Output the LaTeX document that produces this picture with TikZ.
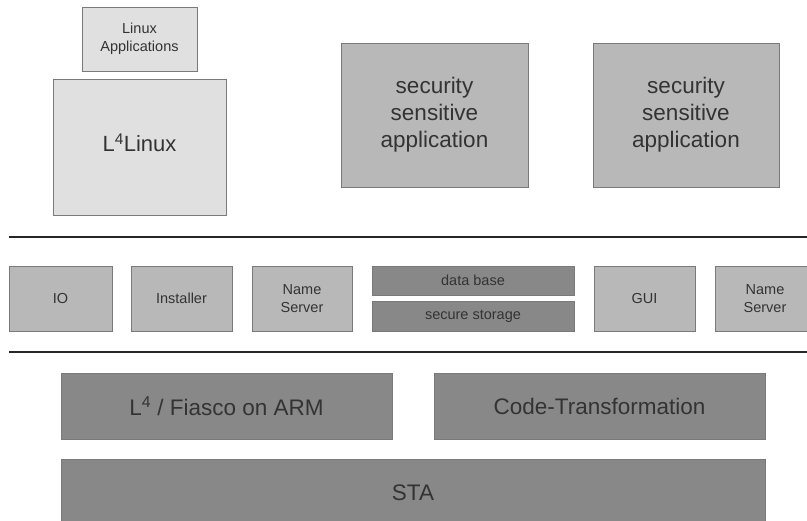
\documentclass[tikz,border=0pt]{standalone}
\usepackage{fontspec}
\setmainfont{Liberation Sans}
\definecolor{lightbox}{HTML}{E0E0E0}
\definecolor{midbox}{HTML}{B8B8B8}
\definecolor{darkbox}{HTML}{888888}
\definecolor{edge}{HTML}{7A7A7A}
\definecolor{txt}{HTML}{333333}
\begin{document}
\begin{tikzpicture}[x=1pt,y=-1pt,
  box/.style={draw=edge,line width=0.9pt,rectangle,inner sep=0pt,align=center,text=txt},
  bigtxt/.style={font=\fontsize{22.5}{27}\selectfont},
  smalltxt/.style={font=\fontsize{14.5}{17.5}\selectfont},
  layer/.style={line width=2.6pt,draw=black!85}]
\clip (0,0) rectangle (807,521);
\fill[white] (0,0) rectangle (807,521);
% top layer
\node[box,fill=lightbox,smalltxt,minimum width=115pt,minimum height=64pt] (linapp) at (139.5,39) {Linux\\Applications};
\node[box,fill=lightbox,minimum width=173pt,minimum height=136pt] (l4linux) at (139.5,147) {};
\node[text=txt,font=\fontsize{22}{26}\selectfont] (l4linuxlabel) at (139.5,143) {L\textsuperscript{4}Linux};
\node[box,fill=midbox,bigtxt,minimum width=187pt,minimum height=144pt] (sec1) at (434.5,115) {security\\sensitive\\application};
\node[box,fill=midbox,bigtxt,minimum width=186pt,minimum height=144pt] (sec2) at (686,115) {security\\sensitive\\application};
% separators
\coordinate (l1a) at (9,237);
\coordinate (l1b) at (807,237);
\coordinate (l2a) at (9,352);
\coordinate (l2b) at (807,352);
\draw[layer] (l1a) -- (l1b);
\draw[layer] (l2a) -- (l2b);
% middle layer
\node[box,fill=midbox,smalltxt,minimum width=103pt,minimum height=65pt] (io) at (60.5,298.5) {IO};
\node[box,fill=midbox,smalltxt,minimum width=101pt,minimum height=65pt] (inst) at (181.5,298.5) {Installer};
\node[box,fill=midbox,smalltxt,minimum width=100pt,minimum height=65pt] (ns1) at (302,298.5) {Name\\Server};
\node[box,fill=darkbox,smalltxt,minimum width=202pt,minimum height=29pt] (db) at (473,280.5) {data base};
\node[box,fill=darkbox,smalltxt,minimum width=202pt,minimum height=30pt] (ss) at (473,316) {secure storage};
\node[box,fill=midbox,smalltxt,minimum width=101pt,minimum height=65pt] (gui) at (644.5,298.5) {GUI};
\node[box,fill=midbox,smalltxt,minimum width=100pt,minimum height=65pt] (ns2) at (765,298.5) {Name\\Server};
% bottom layer
\node[box,fill=darkbox,bigtxt,minimum width=331pt,minimum height=66pt] (fiasco) at (226.5,406) {L\textsuperscript{4} / Fiasco on ARM};
\node[box,fill=darkbox,bigtxt,minimum width=331pt,minimum height=66pt] (code) at (599.5,406) {Code-Transformation};
\node[box,fill=darkbox,bigtxt,minimum width=704pt,minimum height=68pt] (sta) at (413,493) {STA};
\end{tikzpicture}
\end{document}
